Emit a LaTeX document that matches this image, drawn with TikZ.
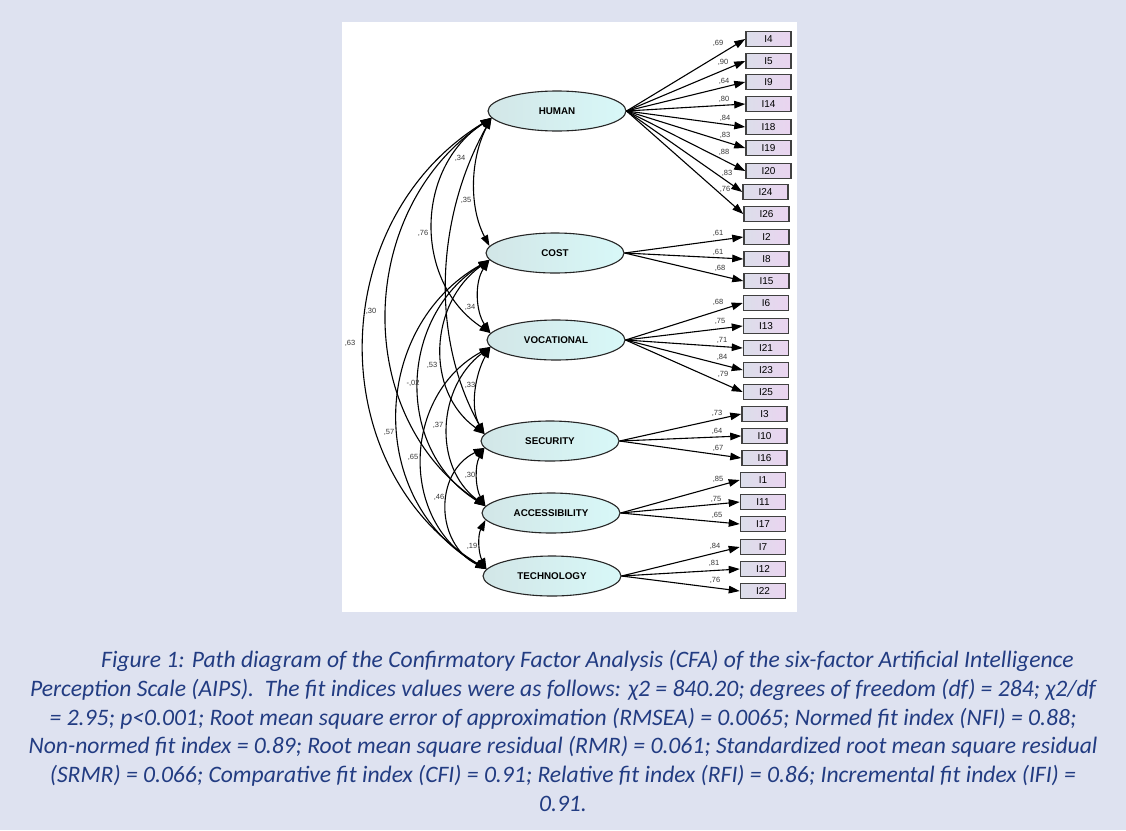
\documentclass[tikz,border=0pt]{standalone}
\usepackage{fontspec}
\setmainfont{Liberation Sans}
\newfontfamily\capfont{Carlito}
\usetikzlibrary{arrows.meta,shapes.geometric}

\definecolor{pagebg}{RGB}{222,226,240}
\definecolor{capblue}{RGB}{34,60,130}
\definecolor{ellleft}{RGB}{210,230,231}
\definecolor{ellright}{RGB}{216,248,248}
\definecolor{boxleft}{RGB}{220,222,234}
\definecolor{boxright}{RGB}{234,212,240}
\definecolor{lblgray}{RGB}{55,55,55}

\tikzset{
  latent/.style={ellipse, draw=black!85, line width=1.1pt, minimum width=138pt, minimum height=40pt,
    left color=ellleft, right color=ellright, inner sep=0pt, font=\fontsize{9.8}{10}\selectfont\bfseries},
  indbox/.style={rectangle, draw=black!75, line width=1.5pt, minimum width=45pt, minimum height=15pt,
    left color=boxleft, right color=boxright, inner sep=0pt, font=\fontsize{10}{10}\selectfont},
  load/.style={line width=1.1pt, -{Triangle[length=11pt,width=7.5pt]}},
  cov/.style={line width=1.1pt, {Triangle[length=11pt,width=7.5pt]}-{Triangle[length=11pt,width=7.5pt]}},
  lbl/.style={font=\fontsize{7.5}{7.5}\selectfont, text=lblgray, inner sep=0pt},
  caption/.style={font=\capfont\itshape\fontsize{23.6}{28.7}\selectfont, text=capblue, align=center, inner sep=0pt}
}

\begin{document}
\begin{tikzpicture}[x=1pt, y=-1pt]
  \fill[pagebg] (0,0) rectangle (1126,830);
  \fill[white] (342,22) rectangle (797,612);
  \useasboundingbox (0,0) rectangle (1126,830);

  % factors
  \node[latent] (HUM) at (557,111) {HUMAN};
  \node[latent] (CST) at (555,253) {COST};
  \node[latent] (VOC) at (556,340) {VOCATIONAL};
  \node[latent] (SEC) at (550,441) {SECURITY};
  \node[latent] (ACC) at (551,513) {ACCESSIBILITY};
  \node[latent] (TEC) at (552,576) {TECHNOLOGY};

  % items
  \node[indbox] (I4) at (768.5,39) {I4};
  \node[indbox] (I5) at (768.5,61) {I5};
  \node[indbox] (I9) at (768.5,82) {I9};
  \node[indbox] (I14) at (768.5,104) {I14};
  \node[indbox] (I18) at (768.5,127) {I18};
  \node[indbox] (I19) at (768.5,148) {I19};
  \node[indbox] (I20) at (768.5,171) {I20};
  \node[indbox] (I24) at (765.5,192) {I24};
  \node[indbox] (I26) at (766.5,214) {I26};
  \node[indbox] (I2) at (766.5,237) {I2};
  \node[indbox] (I8) at (766.5,259) {I8};
  \node[indbox] (I15) at (766.5,281) {I15};
  \node[indbox] (I6) at (766,303) {I6};
  \node[indbox] (I13) at (766,326) {I13};
  \node[indbox] (I21) at (766,348) {I21};
  \node[indbox] (I23) at (766,370) {I23};
  \node[indbox] (I25) at (766,392) {I25};
  \node[indbox] (I3) at (764.5,414) {I3};
  \node[indbox] (I10) at (764.5,436) {I10};
  \node[indbox] (I16) at (764.5,458) {I16};
  \node[indbox] (I1) at (763,480) {I1};
  \node[indbox] (I11) at (763,502) {I11};
  \node[indbox] (I17) at (763,524) {I17};
  \node[indbox] (I7) at (763,547) {I7};
  \node[indbox] (I12) at (763,569) {I12};
  \node[indbox] (I22) at (763,591) {I22};

  % loadings
  \draw[load] (HUM.east) -- (I4.west) node[lbl] at (718,43) {,69};
  \draw[load] (HUM.east) -- (I5.west) node[lbl] at (723,62) {,90};
  \draw[load] (HUM.east) -- (I9.west) node[lbl] at (724,81) {,64};
  \draw[load] (HUM.east) -- (I14.west) node[lbl] at (724,99) {,80};
  \draw[load] (HUM.east) -- (I18.west) node[lbl] at (725,118) {,84};
  \draw[load] (HUM.east) -- (I19.west) node[lbl] at (725,135) {,83};
  \draw[load] (HUM.east) -- (I20.west) node[lbl] at (724,152) {,88};
  \draw[load] (HUM.east) -- (I24.west) node[lbl] at (727,173) {,83};
  \draw[load] (HUM.east) -- (I26.west) node[lbl] at (725,189) {,76};
  \draw[load] (CST.east) -- (I2.west) node[lbl] at (718,233) {,61};
  \draw[load] (CST.east) -- (I8.west) node[lbl] at (718,252) {,61};
  \draw[load] (CST.east) -- (I15.west) node[lbl] at (720,268) {,68};
  \draw[load] (VOC.east) -- (I6.west) node[lbl] at (718,302) {,68};
  \draw[load] (VOC.east) -- (I13.west) node[lbl] at (720,321) {,75};
  \draw[load] (VOC.east) -- (I21.west) node[lbl] at (722,340) {,71};
  \draw[load] (VOC.east) -- (I23.west) node[lbl] at (722,357) {,84};
  \draw[load] (VOC.east) -- (I25.west) node[lbl] at (723,374) {,79};
  \draw[load] (SEC.east) -- (I3.west) node[lbl] at (717,413) {,73};
  \draw[load] (SEC.east) -- (I10.west) node[lbl] at (717,431) {,64};
  \draw[load] (SEC.east) -- (I16.west) node[lbl] at (718,448) {,67};
  \draw[load] (ACC.east) -- (I1.west) node[lbl] at (718,479) {,85};
  \draw[load] (ACC.east) -- (I11.west) node[lbl] at (716,499) {,75};
  \draw[load] (ACC.east) -- (I17.west) node[lbl] at (717,515) {,65};
  \draw[load] (TEC.east) -- (I7.west) node[lbl] at (715,546) {,84};
  \draw[load] (TEC.east) -- (I12.west) node[lbl] at (714,563) {,81};
  \draw[load] (TEC.east) -- (I22.west) node[lbl] at (715,580) {,76};

  % covariances
  \draw[cov] (HUM.186) .. controls +(-21,40) and +(-21,-40) .. (CST.174) node[lbl] at (466,200) {,35};
  \draw[cov] (HUM.186) .. controls +(-77,51) and +(-77,-51) .. (VOC.174) node[lbl] at (423,233) {,76};
  \draw[cov] (HUM.186) .. controls +(-55,98) and +(-55,-98) .. (SEC.174) node[lbl] at (460,158) {,34};
  \draw[cov] (HUM.186) .. controls +(-135,91) and +(-135,-91) .. (ACC.174) node[lbl] at (371,311) {,30};
  \draw[cov] (HUM.186) .. controls +(-166,102) and +(-166,-102) .. (TEC.174) node[lbl] at (350,343) {,63};
  \draw[cov] (CST.186) .. controls +(-15,22) and +(-15,-22) .. (VOC.174) node[lbl] at (470,307) {,34};
  \draw[cov] (CST.186) .. controls +(-60,43) and +(-60,-43) .. (SEC.174) node[lbl] at (432,365) {,53};
  \draw[cov] (CST.186) .. controls +(-91,57) and +(-91,-57) .. (ACC.174) node[lbl] at (413,383) {-,02};
  \draw[cov] (CST.186) .. controls +(-120,68) and +(-120,-68) .. (TEC.174) node[lbl] at (389,432) {,57};
  \draw[cov] (VOC.186) .. controls +(-15,27) and +(-15,-27) .. (SEC.174) node[lbl] at (470,385) {,33};
  \draw[cov] (VOC.186) .. controls +(-53,40) and +(-53,-40) .. (ACC.174) node[lbl] at (438,425) {,37};
  \draw[cov] (VOC.186) .. controls +(-88,48) and +(-88,-48) .. (TEC.174) node[lbl] at (413,457) {,65};
  \draw[cov] (SEC.186) .. controls +(-10,18) and +(-10,-18) .. (ACC.174) node[lbl] at (470,475) {,30};
  \draw[cov] (SEC.186) .. controls +(-51,25) and +(-51,-25) .. (TEC.174) node[lbl] at (439,497) {,46};
  \draw[cov] (ACC.186) .. controls +(-8,16) and +(-8,-16) .. (TEC.174) node[lbl] at (472,546) {,19};

  % caption
  \node[caption] (cap) at (563,731) {\hspace*{49pt}Figure 1: Path diagram of the Confirmatory Factor Analysis (CFA) of the six-factor Artificial Intelligence\\
    Perception Scale (AIPS).\ \ The fit indices values were as follows: χ2 = 840.20; degrees of freedom (df) = 284; χ2/df\\
    = 2.95; p<0.001; Root mean square error of approximation (RMSEA) = 0.0065; Normed fit index (NFI) = 0.88;\\
    Non-normed fit index = 0.89; Root mean square residual (RMR) = 0.061; Standardized root mean square residual\\
    (SRMR) = 0.066; Comparative fit index (CFI) = 0.91; Relative fit index (RFI) = 0.86; Incremental fit index (IFI) =\\
    0.91.};
\end{tikzpicture}
\end{document}
